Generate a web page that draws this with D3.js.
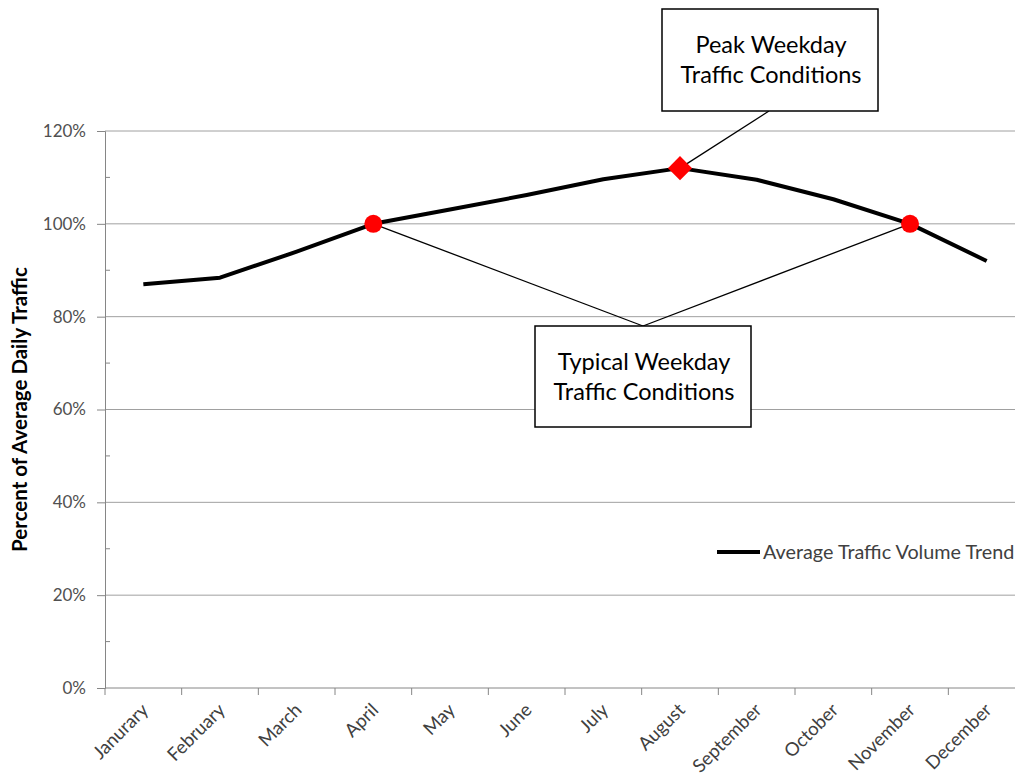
<!DOCTYPE html>
<html><head><meta charset="utf-8">
<script src="https://cdn.jsdelivr.net/npm/d3@7"></script>
<style>body{margin:0;background:#fff}svg{display:block}text{font-family:Lato,"Open Sans",sans-serif}</style>
</head><body><svg id="c" width="1015" height="781"></svg>
<script>
const months=["Janurary","February","March","April","May","June","July","August","September","October","November","December"];
const trend=[87.0,88.4,94.0,100.0,103.1,106.2,109.6,112.0,109.5,105.3,100.0,92.0];
const yTicks=[0,20,40,60,80,100,120];
const typicalMonths=["April","November"];
const peakMonths=["August"];
const seriesName="Average Traffic Volume Trend";
const yTitle="Percent of Average Daily Traffic";
const peakLabel=["Peak Weekday","Traffic Conditions"];
const typicalLabel=["Typical Weekday","Traffic Conditions"];

const svg=d3.select("#c");
const L=105,R=1025,T=131,B=688;
const x=d3.scaleBand().domain(months).range([L,R]).padding(0);
const y=d3.scaleLinear().domain([0,120]).range([B,T]);
const cx=m=>x(m)+x.bandwidth()/2;
const val=m=>trend[months.indexOf(m)];
const axisCol="#868686", gridCol="#a0a0a0";

// gridlines
svg.append("g").selectAll("line").data(yTicks.slice(1)).join("line")
 .attr("x1",L).attr("x2",R).attr("y1",d=>y(d)).attr("y2",d=>y(d))
 .attr("stroke",gridCol).attr("stroke-width",1);

// y axis
const ya=svg.append("g").attr("transform",`translate(${L},0)`)
 .call(d3.axisLeft(y).tickValues(yTicks).tickFormat(d=>d+"%").tickSize(8).tickPadding(11));
ya.select(".domain").attr("stroke",axisCol);
ya.selectAll(".tick line").attr("stroke",axisCol);
ya.selectAll("text").attr("font-size",17).attr("fill","#505050").style("font-family","Lato,'Open Sans',sans-serif");
// minor ticks
svg.append("g").selectAll("line").data(d3.range(10,120,20)).join("line")
 .attr("x1",L).attr("x2",L+5).attr("y1",d=>y(d)).attr("y2",d=>y(d)).attr("stroke",axisCol);

// x axis
svg.append("line").attr("x1",L).attr("x2",R).attr("y1",B).attr("y2",B).attr("stroke",axisCol);
const bounds=months.map(m=>x(m)).concat([R]);
svg.append("g").selectAll("line").data(bounds).join("line")
 .attr("x1",d=>d).attr("x2",d=>d).attr("y1",B).attr("y2",B+7).attr("stroke",axisCol);
svg.append("g").selectAll("text").data(months).join("text")
 .attr("transform",d=>`translate(${cx(d)-3},${B+14}) rotate(-45)`)
 .attr("text-anchor","end").attr("dy","0.7em").attr("font-size",18.5).attr("fill","#404040")
 .text(d=>d);

// y title
svg.append("text").attr("transform",`translate(20,${(T+B)/2}) rotate(-90)`)
 .attr("text-anchor","middle").attr("dy","0.35em").attr("font-size",20.5).attr("font-weight","bold").attr("fill","#000")
 .text(yTitle);

// annotation connectors
const typBox={x:535,y:326,w:216,h:101};
const peakBox={x:662,y:9,w:216,h:102};
svg.append("g").selectAll("line").data(typicalMonths).join("line")
 .attr("x1",d=>cx(d)).attr("y1",d=>y(val(d))).attr("x2",typBox.x+typBox.w/2).attr("y2",typBox.y)
 .attr("stroke","#000").attr("stroke-width",1.3);
svg.append("g").selectAll("line").data(peakMonths).join("line")
 .attr("x1",d=>cx(d)).attr("y1",d=>y(val(d))).attr("x2",peakBox.x+107).attr("y2",peakBox.y+peakBox.h)
 .attr("stroke","#000").attr("stroke-width",1.3);

// trend line
svg.append("path").datum(months).attr("fill","none").attr("stroke","#000").attr("stroke-width",4)
 .attr("stroke-linejoin","round")
 .attr("d",d3.line().x(cx).y(m=>y(val(m))));

// markers
svg.append("g").selectAll("circle").data(typicalMonths).join("circle")
 .attr("cx",cx).attr("cy",m=>y(val(m))).attr("r",9).attr("fill","#ff0000");
svg.append("g").selectAll("path").data(peakMonths).join("path")
 .attr("d",d3.symbol(d3.symbolSquare,290)).attr("transform",m=>`translate(${cx(m)},${y(val(m))}) rotate(45)`)
 .attr("fill","#ff0000");

// boxes
function box(b,lines){
 const g=svg.append("g");
 g.append("rect").attr("x",b.x).attr("y",b.y).attr("width",b.w).attr("height",b.h)
  .attr("fill","#fff").attr("stroke","#000").attr("stroke-width",1.5);
 g.selectAll("text").data(lines).join("text")
  .attr("x",b.x+b.w/2+1).attr("y",(d,i)=>b.y+b.h/2-15+i*30).attr("dy","0.35em")
  .attr("text-anchor","middle").attr("font-size",23.5).attr("fill","#000").text(d=>d);
}
box(peakBox,peakLabel);
box(typBox,typicalLabel);

// legend
const lg=svg.append("g").attr("transform","translate(717,552)");
lg.append("line").attr("x1",0).attr("x2",43).attr("stroke","#000").attr("stroke-width",4);
lg.append("text").attr("x",46).attr("dy","0.35em").attr("font-size",19.8).attr("fill","#404040").text(seriesName);
</script></body></html>
